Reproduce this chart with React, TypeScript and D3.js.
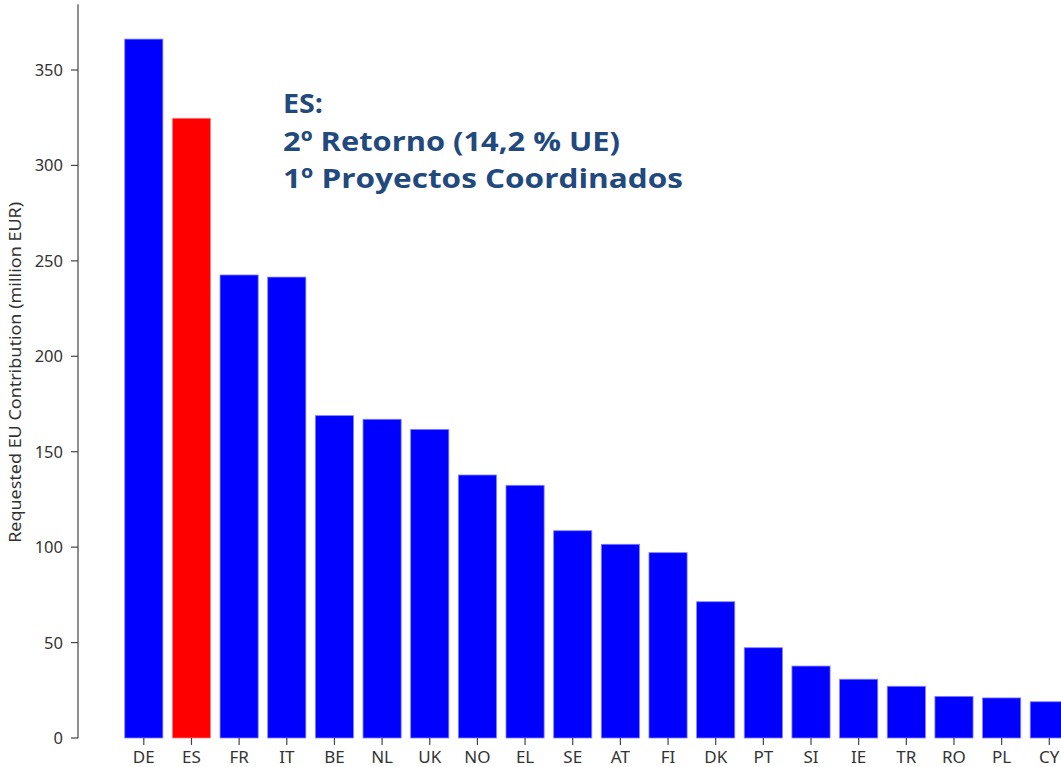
import React from "react";
import * as d3 from "d3";

const countries = ["DE","ES","FR","IT","BE","NL","UK","NO","EL","SE","AT","FI","DK","PT","SI","IE","TR","RO","PL","CY"];
const contributions = [366.2,324.7,242.6,241.5,168.9,167.0,161.7,137.8,132.4,108.6,101.5,97.1,71.4,47.3,37.7,30.8,27.1,21.8,21.0,19.0];
const highlight = ["ES"];
const yTicks = [0,50,100,150,200,250,300,350];
const yLabel = "Requested EU Contribution (million EUR)";
const noteLines = ["ES:", "2º Retorno (14,2 % UE)", "1º Proyectos Coordinados"];
const noteWidths = [40, 337, 400];

const W = 1061, H = 767;

export default function App() {
  const x = d3.scaleLinear().domain([0, countries.length - 1]).range([143.8, 1049.3]);
  const step = x(1) - x(0);
  const bw = step * 0.8;
  const y = d3.scaleLinear().domain([0, 350]).range([738, 70]);
  const axisX = 78;
  const axisTop = y(384.5);
  const tickFont = "'Noto Sans', 'Open Sans', sans-serif";
  return (
    <svg width={W} height={H} style={{ position: "absolute", left: 0, top: 0, background: "#fff" }}>
      <rect width={W} height={H} fill="#fff" />
      {contributions.map((v, i) => (
        <rect key={countries[i]} x={x(i) - bw / 2} y={y(v)} width={bw} height={y(0) - y(v)}
          fill={highlight.includes(countries[i]) ? "#ff0000" : "#0000ff"}
          stroke={highlight.includes(countries[i]) ? "#ff8080" : "#8080ff"} strokeWidth={0.8} />
      ))}
      <line x1={axisX} x2={axisX} y1={axisTop} y2={y(0)} stroke="#444" strokeWidth={1.2} />
      {yTicks.map(t => (
        <g key={t}>
          <line x1={axisX - 7} x2={axisX} y1={y(t)} y2={y(t)} stroke="#444" strokeWidth={1.2} />
          <text x={axisX - 15} y={y(t)} dy="0.36em" textAnchor="end" fontFamily={tickFont} fontSize={16.5} fill="#333">{t}</text>
        </g>
      ))}
      {countries.map((c, i) => (
        <g key={c}>
          <line x1={x(i)} x2={x(i)} y1={y(0)} y2={y(0) + 7} stroke="#444" strokeWidth={1.2} />
          <text x={x(i)} y={763} textAnchor="middle" fontFamily={tickFont} fontSize={17} fill="#333">{c}</text>
        </g>
      ))}
      <text transform={`translate(21,${(201.7 + 543) / 2}) rotate(-90)`} textAnchor="middle"
        fontFamily={tickFont} fontSize={16.5} fill="#333" textLength={341} lengthAdjust="spacingAndGlyphs">{yLabel}</text>
      {noteLines.map((l, i) => (
        <text key={i} x={283} y={113 + i * 37.5} fontFamily="'Open Sans', Lato, sans-serif" fontWeight="bold"
          fontSize={27.5} fill="#22497d" textLength={noteWidths[i]} lengthAdjust="spacingAndGlyphs">{l}</text>
      ))}
    </svg>
  );
}
